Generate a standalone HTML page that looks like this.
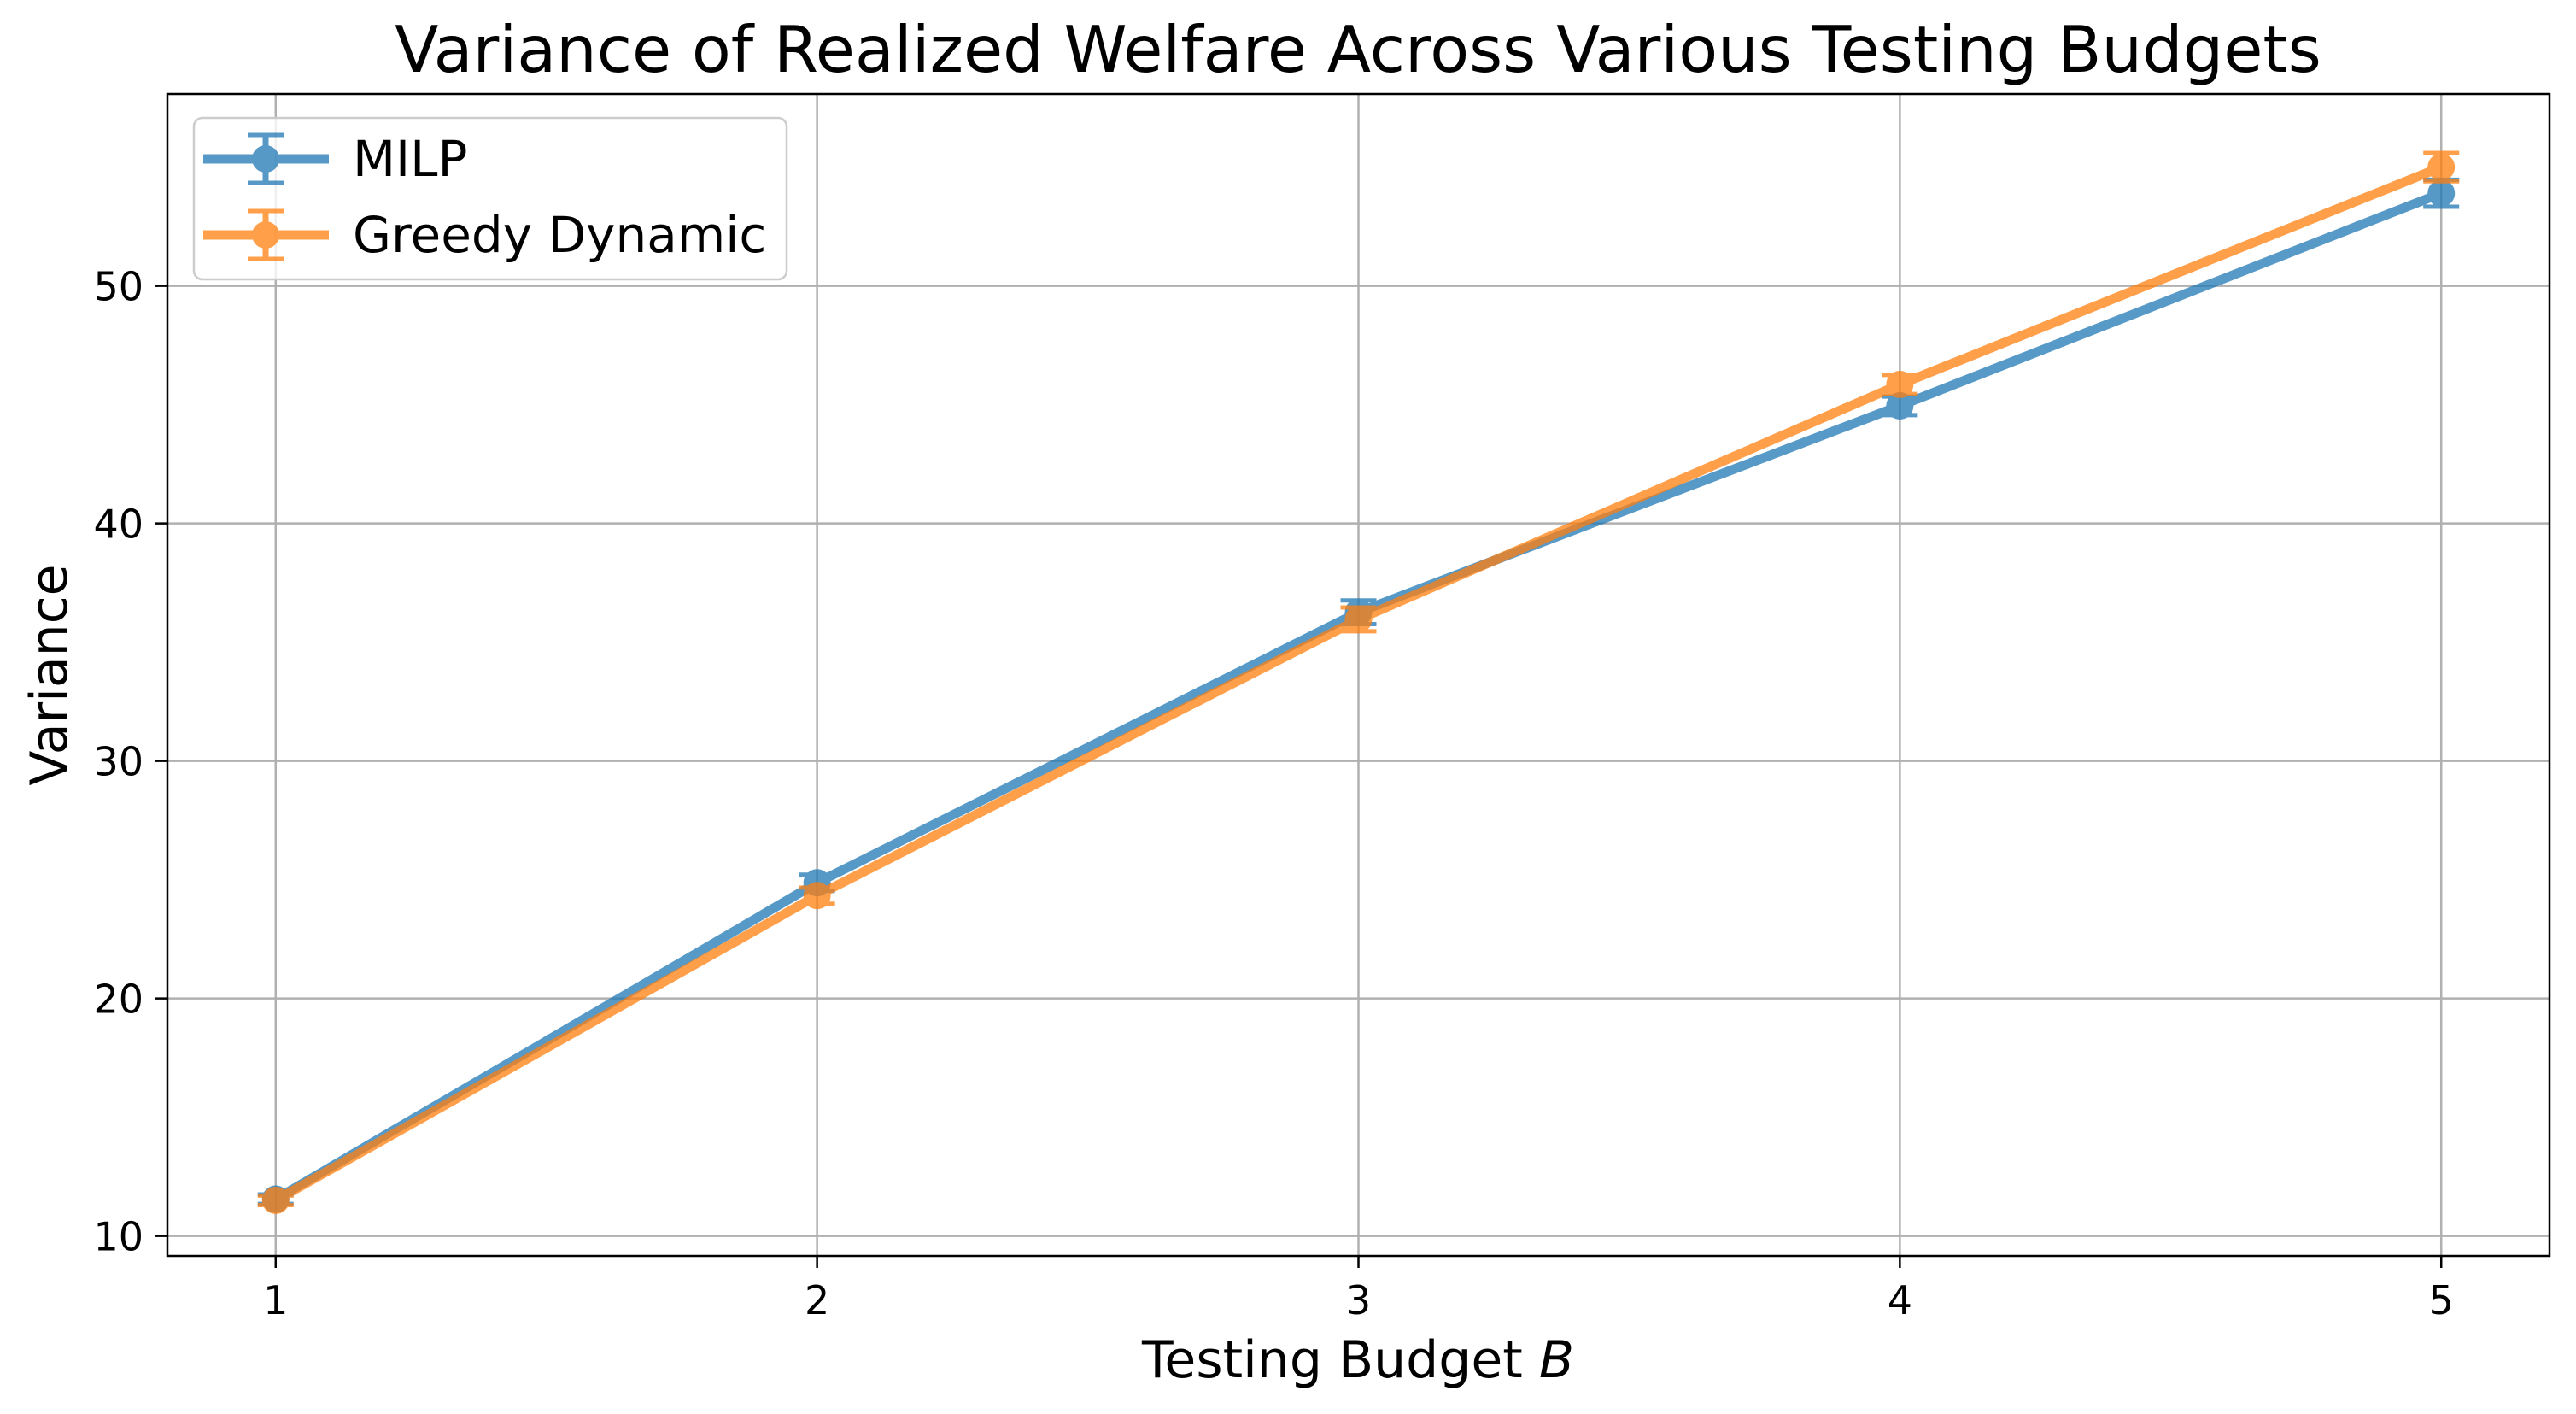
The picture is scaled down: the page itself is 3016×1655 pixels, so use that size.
<!DOCTYPE html>
<html><head><meta charset="utf-8"><style>
html,body{margin:0;padding:0;background:#fff;}
svg{display:block;font-family:"DejaVu Sans","Liberation Sans",sans-serif;}
</style></head><body>
<svg id="chart" width="3016" height="1655" viewBox="0 0 3016 1655">
<rect width="3016" height="1655" fill="#fff"/>
<g id="grid"></g>
<g id="series"></g>
<rect x="196" y="110" width="2789" height="1360" fill="none" stroke="#000" stroke-width="2.5"/>
<g id="ticks"></g>
<text x="1590" y="84" text-anchor="middle" font-size="75">Variance of Realized Welfare Across Various Testing Budgets</text>
<text x="1590" y="1612" text-anchor="middle" font-size="60">Testing Budget <tspan font-style="italic">B</tspan></text>
<text transform="translate(78,790) rotate(-90)" text-anchor="middle" font-size="60">Variance</text>
<g>
<rect x="227" y="138" width="694" height="189" rx="10" fill="#fff" fill-opacity="0.8" stroke="#ccc" stroke-width="2.5"/>
<g opacity="0.75">
<line x1="238" y1="186" x2="385" y2="186" stroke="#1f77b4" stroke-width="11"/>
<line x1="311" y1="158" x2="311" y2="214" stroke="#1f77b4" stroke-width="7"/>
<line x1="290" y1="158" x2="332" y2="158" stroke="#1f77b4" stroke-width="5"/>
<line x1="290" y1="214" x2="332" y2="214" stroke="#1f77b4" stroke-width="5"/>
<circle cx="311" cy="186" r="16" fill="#1f77b4"/>
</g>
<text x="413" y="206" font-size="58">MILP</text>
<g opacity="0.75">
<line x1="238" y1="275" x2="385" y2="275" stroke="#ff7f0e" stroke-width="11"/>
<line x1="311" y1="247" x2="311" y2="303" stroke="#ff7f0e" stroke-width="7"/>
<line x1="290" y1="247" x2="332" y2="247" stroke="#ff7f0e" stroke-width="5"/>
<line x1="290" y1="303" x2="332" y2="303" stroke="#ff7f0e" stroke-width="5"/>
<circle cx="311" cy="275" r="16" fill="#ff7f0e"/>
</g>
<text x="413" y="295" font-size="58">Greedy Dynamic</text>
</g>
</svg>
<script>
const budgets = [1, 2, 3, 4, 5];
const milpValues = [11.55, 24.87, 36.26, 44.95, 53.9];
const milpErrors = [0.2, 0.34, 0.5, 0.39, 0.57];
const greedyValues = [11.5, 24.33, 35.96, 45.85, 55.0];
const greedyErrors = [0.2, 0.34, 0.5, 0.4, 0.6];
const xTicks = [1, 2, 3, 4, 5];
const yTicks = [10, 20, 30, 40, 50];

const NS = "http://www.w3.org/2000/svg";
const L = 196, R = 2985, T = 110, B = 1470;
const xMin = 0.8, xMax = 5.2, yMin = 9.16, yMax = 58.08;
const xs = v => L + (v - xMin) / (xMax - xMin) * (R - L);
const ys = v => B - (v - yMin) / (yMax - yMin) * (B - T);
function mk(tag, attrs, parent) {
  const e = document.createElementNS(NS, tag);
  for (const k in attrs) e.setAttribute(k, attrs[k]);
  parent.appendChild(e);
  return e;
}
const grid = document.getElementById('grid');
const ticks = document.getElementById('ticks');
xTicks.forEach(t => {
  const g = mk('line', {x1: xs(t), x2: xs(t), y1: T, y2: B, stroke: '#b0b0b0', 'stroke-width': 2.5}, grid);
  
  
  const tk = mk('line', {x1: xs(t), x2: xs(t), y1: B, y2: B + 14, stroke: '#000', 'stroke-width': 2.5}, ticks);
  
  
  const tx = mk('text', {x: xs(t), y: B + 68, 'text-anchor': 'middle', 'font-size': 46}, ticks);
  tx.textContent = t;
  
  
});
yTicks.forEach(t => {
  const g = mk('line', {x1: L, x2: R, y1: ys(t), y2: ys(t), stroke: '#b0b0b0', 'stroke-width': 2.5}, grid);
  
  
  const tk = mk('line', {x1: L - 14, x2: L, y1: ys(t), y2: ys(t), stroke: '#000', 'stroke-width': 2.5}, ticks);
  
  
  const tx = mk('text', {x: L - 28, y: ys(t) + 17, 'text-anchor': 'end', 'font-size': 46}, ticks);
  tx.textContent = t;
  
  
});
const series = document.getElementById('series');
function drawSeries(vals, errs, color, name) {
  const g = mk('g', {opacity: 0.75}, series);
  
  
  const pts = budgets.map((b, i) => xs(b) + ',' + ys(vals[i])).join(' ');
  const pl = mk('polyline', {points: pts, fill: 'none', stroke: color, 'stroke-width': 11, 'stroke-linejoin': 'round'}, g);
  
  
  budgets.forEach((b, i) => {
    const x = xs(b), y1 = ys(vals[i] - errs[i]), y2 = ys(vals[i] + errs[i]);
    const e = mk('line', {x1: x, x2: x, y1: y1, y2: y2, stroke: color, 'stroke-width': 7}, g);
    
    
    [y1, y2].forEach(yy => {
      const c = mk('line', {x1: x - 21, x2: x + 21, y1: yy, y2: yy, stroke: color, 'stroke-width': 5}, g);
      
      
    });
    const p = mk('circle', {cx: x, cy: ys(vals[i]), r: 16, fill: color}, g);
    
    
  });
}
drawSeries(milpValues, milpErrors, '#1f77b4', 'milp');
drawSeries(greedyValues, greedyErrors, '#ff7f0e', 'greedy');
</script>
</body></html>
